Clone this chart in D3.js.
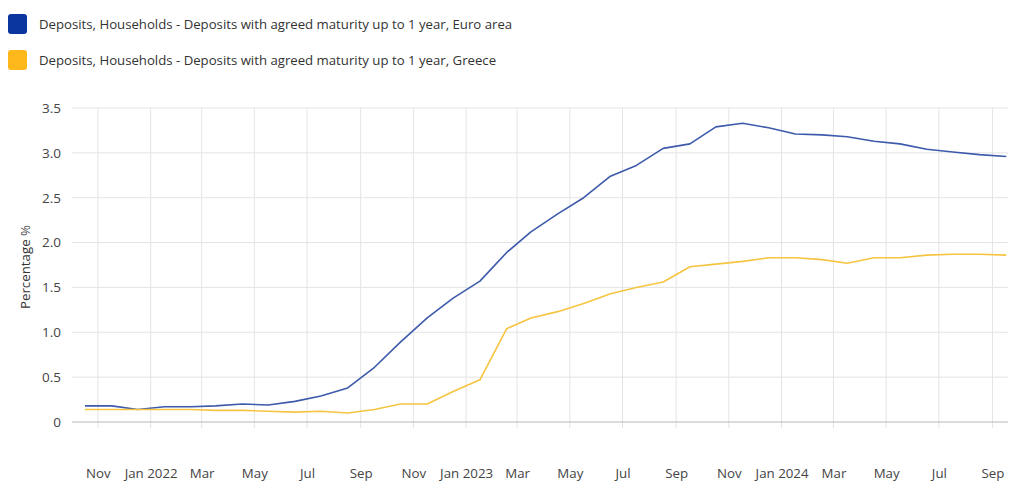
<!DOCTYPE html>
<html>
<head>
<meta charset="utf-8">
<script src="https://cdn.jsdelivr.net/npm/d3@7"></script>
<style>
  body { margin: 0; background: #fff; }
  text { font-family: "Open Sans", sans-serif; }
  .grid line { stroke: #e4e4e4; stroke-width: 1; }
</style>
</head>
<body>
<div id="chart"></div>
<script>
// monthly observations, Oct 2021 .. Sep 2024
const months = [
  "2021-10", "2021-11", "2021-12",
  "2022-01", "2022-02", "2022-03", "2022-04", "2022-05", "2022-06",
  "2022-07", "2022-08", "2022-09", "2022-10", "2022-11", "2022-12",
  "2023-01", "2023-02", "2023-03", "2023-04", "2023-05", "2023-06",
  "2023-07", "2023-08", "2023-09", "2023-10", "2023-11", "2023-12",
  "2024-01", "2024-02", "2024-03", "2024-04", "2024-05", "2024-06",
  "2024-07", "2024-08", "2024-09"
];
const euroArea = [
  0.18, 0.18, 0.14,
  0.17, 0.17, 0.18, 0.20, 0.19, 0.23,
  0.29, 0.38, 0.61, 0.89, 1.16, 1.38,
  1.57, 1.89, 2.12, 2.32, 2.50, 2.74,
  2.86, 3.05, 3.10, 3.29, 3.33, 3.28,
  3.21, 3.20, 3.18, 3.13, 3.10, 3.04,
  3.01, 2.98, 2.96
];
const greece = [
  0.14, 0.14, 0.14,
  0.14, 0.14, 0.13, 0.13, 0.12, 0.11,
  0.12, 0.10, 0.14, 0.20, 0.20, 0.34,
  0.47, 1.04, 1.16, 1.23, 1.32, 1.43,
  1.50, 1.56, 1.73, 1.76, 1.79, 1.83,
  1.83, 1.81, 1.77, 1.83, 1.83, 1.86,
  1.87, 1.87, 1.86
];
const seriesNames = [
  "Deposits, Households - Deposits with agreed maturity up to 1 year, Euro area",
  "Deposits, Households - Deposits with agreed maturity up to 1 year, Greece"
];
const legendColors = ["#0b36a0", "#ffb81c"];
const lineColors = ["#3d5aab", "#f6c440"];
const yTicks = [0, 0.5, 1.0, 1.5, 2.0, 2.5, 3.0, 3.5];
const yTitle = "Percentage %";

const width = 1010, height = 484;
const plot = {left: 72, right: 1008, top: 108, bottom: 422};

const parseMonth = d3.timeParse("%Y-%m-%d");
const dates = months.map(m => parseMonth(m + "-17"));

const x = d3.scaleTime()
    .domain([new Date(2021, 9, 2), new Date(2024, 8, 19)])
    .range([plot.left, plot.right]);
const y = d3.scaleLinear()
    .domain([0, 3.5])
    .range([plot.bottom, plot.top]);

const svg = d3.select("#chart").append("svg")
    .attr("width", width)
    .attr("height", height);

// legend
const legend = svg.append("g").attr("class", "legend");
seriesNames.forEach((name, i) => {
    const g = legend.append("g").attr("transform", `translate(8,${14 + i * 36})`);
    g.append("rect")
        .attr("width", 19)
        .attr("height", 20)
        .attr("rx", 3)
        .attr("fill", legendColors[i]);
    g.append("text")
        .attr("x", 31)
        .attr("y", 10)
        .attr("dy", "0.35em")
        .attr("font-size", 13.2)
        .attr("fill", "#333")
        .text(name);
});

// gridlines
const xTickDates = x.ticks(d3.timeMonth.every(2));
svg.append("g").attr("class", "grid")
    .selectAll("line")
    .data(xTickDates)
    .enter()
    .append("line")
    .attr("x1", d => x(d))
    .attr("x2", d => x(d))
    .attr("y1", plot.top)
    .attr("y2", plot.bottom + 6);

svg.append("g").attr("class", "grid")
    .selectAll("line")
    .data(yTicks.filter(d => d > 0))
    .enter()
    .append("line")
    .attr("x1", plot.left)
    .attr("x2", plot.right)
    .attr("y1", d => y(d))
    .attr("y2", d => y(d));

svg.append("line")
    .attr("x1", plot.left)
    .attr("x2", plot.right)
    .attr("y1", y(0))
    .attr("y2", y(0))
    .attr("stroke", "#b8b8b8");

// y axis labels
const yAxis = svg.append("g")
    .attr("transform", `translate(${plot.left - 8},0)`)
    .call(d3.axisLeft(y).tickValues(yTicks).tickSize(0)
        .tickFormat(d => d === 0 ? "0" : d3.format(".1f")(d)));
yAxis.select(".domain").remove();
yAxis.selectAll("text")
    .attr("font-family", "Open Sans, sans-serif")
    .attr("font-size", 13.5)
    .attr("fill", "#444");

svg.append("text")
    .attr("transform", `translate(25,${(plot.top + plot.bottom) / 2 + 2}) rotate(-90)`)
    .attr("text-anchor", "middle")
    .attr("dy", "0.35em")
    .attr("font-size", 13.3)
    .attr("fill", "#333")
    .text(yTitle);

// x axis labels, drawn well below the plot
const xFormat = d => d.getMonth() === 0 ? d3.timeFormat("%b %Y")(d) : d3.timeFormat("%b")(d);
const xAxis = svg.append("g")
    .attr("transform", `translate(0,${plot.bottom})`)
    .call(d3.axisBottom(x).tickValues(xTickDates).tickSize(0).tickPadding(47).tickFormat(xFormat));
xAxis.select(".domain").remove();
xAxis.selectAll("text")
    .attr("font-family", "Open Sans, sans-serif")
    .attr("font-size", 13.3)
    .attr("fill", "#444");

// lines
const line = d3.line()
    .x((d, i) => x(dates[i]))
    .y(d => y(d));

[euroArea, greece].forEach((values, i) => {
    svg.append("path")
        .datum(values)
        .attr("fill", "none")
        .attr("stroke", lineColors[i])
        .attr("stroke-width", 1.6)
        .attr("stroke-linejoin", "round")
        .attr("d", line);
});
</script>
</body>
</html>
